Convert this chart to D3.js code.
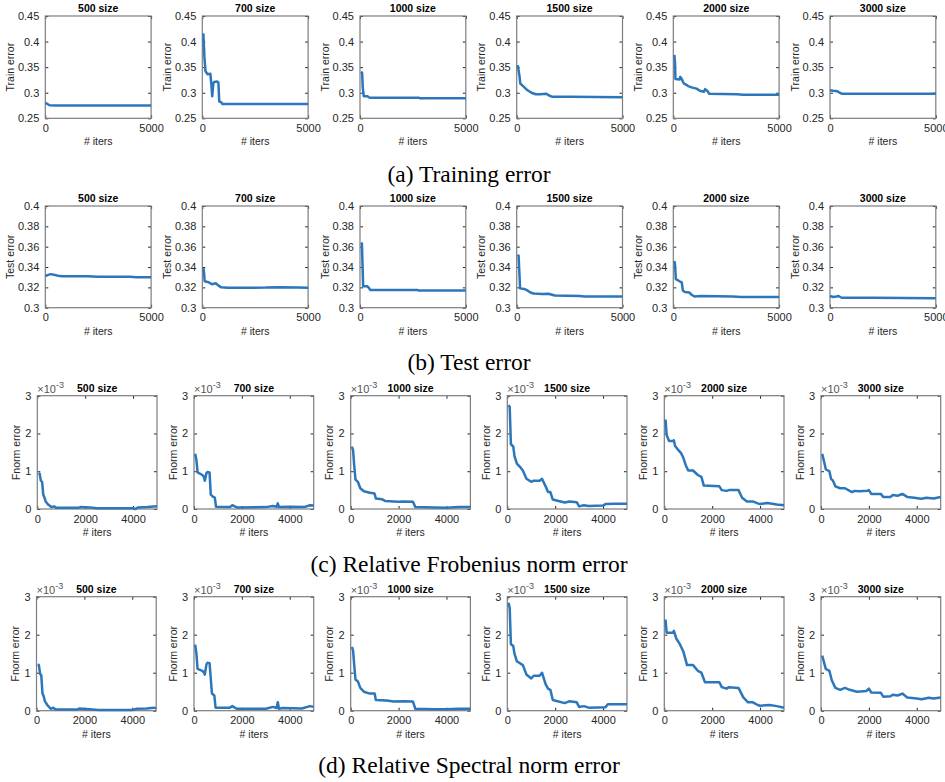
<!DOCTYPE html>
<html>
<head>
<meta charset="utf-8">
<script src="https://cdn.jsdelivr.net/npm/d3@7"></script>
<style>
  body { margin: 0; background: #fff; }
  text { font-family: "Liberation Sans", Arial, sans-serif; }
</style>
</head>
<body>
<div id="chart"></div>
<script>
var width = 945,
  height = 782;

var sizeTitles = ["500 size", "700 size", "1000 size", "1500 size", "2000 size", "3000 size"];

var captions = ["(a) Training error", "(b) Test error", "(c) Relative Frobenius norm error", "(d) Relative Spectral norm error"];
var yLabels = ["Train error", "Test error", "Fnorm error", "Fnorm error"];

var trainTicks = [0.25, 0.3, 0.35, 0.4, 0.45];
var testTicks = [0.3, 0.32, 0.34, 0.36, 0.38, 0.4];
var normTicks = [0, 1, 2, 3];   // x 10^-3
var iterTicksShort = [0, 5000];
var iterTicksLong = [0, 2000, 4000];

// [iteration, value]
var trainError = [
  [[0,0.280],[100,0.278],[200,0.2755],[500,0.2752],[5000,0.2752]],
  [[50,0.416],[100,0.37],[150,0.342],[250,0.336],[380,0.337],[420,0.32],[470,0.293],[520,0.318],[560,0.321],[700,0.322],[760,0.32],[800,0.283],[900,0.281],[950,0.278],[5000,0.278]],
  [[50,0.341],[100,0.339],[130,0.31],[180,0.293],[350,0.293],[420,0.291],[500,0.29],[2800,0.29],[2850,0.289],[5000,0.289]],
  [[50,0.354],[130,0.333],[170,0.318],[300,0.313],[450,0.307],[550,0.304],[700,0.300],[900,0.297],[1100,0.297],[1400,0.298],[1550,0.294],[1700,0.292],[2500,0.292],[5000,0.291]],
  [[50,0.374],[80,0.36],[100,0.327],[300,0.326],[330,0.331],[400,0.327],[450,0.322],[500,0.318],[600,0.316],[700,0.313],[900,0.310],[1100,0.308],[1250,0.304],[1450,0.302],[1500,0.307],[1600,0.304],[1700,0.298],[3000,0.297],[3300,0.296],[5000,0.296]],
  [[0,0.305],[150,0.304],[350,0.303],[450,0.300],[550,0.298],[5000,0.298]]
];

var testError = [
  [[0,0.331],[100,0.332],[250,0.333],[400,0.3325],[600,0.3315],[800,0.331],[2000,0.331],[2500,0.3305],[4000,0.3305],[4300,0.330],[5000,0.330]],
  [[50,0.339],[80,0.335],[110,0.326],[300,0.325],[450,0.323],[650,0.324],[750,0.322],[900,0.320],[1200,0.3195],[3000,0.3198],[3600,0.3202],[4500,0.3198],[5000,0.3195]],
  [[50,0.364],[90,0.363],[150,0.321],[350,0.321],[420,0.3195],[480,0.3175],[2700,0.3175],[2750,0.317],[5000,0.317]],
  [[50,0.352],[90,0.351],[160,0.319],[350,0.3185],[500,0.317],[650,0.315],[800,0.314],[1200,0.3135],[1500,0.3137],[1800,0.312],[3000,0.3115],[3200,0.311],[5000,0.311]],
  [[50,0.346],[80,0.343],[120,0.328],[300,0.326],[400,0.325],[450,0.317],[550,0.3155],[750,0.315],[850,0.313],[1000,0.311],[1300,0.3115],[2800,0.311],[3200,0.3105],[5000,0.3105]],
  [[0,0.3115],[150,0.3105],[300,0.311],[400,0.3115],[550,0.3098],[1000,0.3097],[2000,0.3098],[5000,0.3093]]
];

// values in units of 10^-3
var fnormError = [
  [[50,0.95],[100,0.93],[150,0.75],[200,0.72],[250,0.38],[300,0.3],[350,0.2],[450,0.12],[550,0.07],[600,0.05],[700,0.07],[800,0.03],[1700,0.03],[1800,0.05],[2200,0.04],[2500,0.02],[4000,0.02],[4100,0.0],[4200,0.04],[4600,0.05],[5000,0.07]],
  [[50,1.46],[100,1.3],[150,0.97],[350,0.9],[420,0.85],[450,0.75],[520,0.95],[560,0.98],[650,0.97],[700,0.38],[800,0.32],[870,0.3],[920,0.06],[1500,0.05],[1600,0.1],[1700,0.07],[1800,0.04],[3000,0.05],[3300,0.08],[3450,0.06],[3500,0.15],[3550,0.05],[4000,0.06],[4600,0.05],[4850,0.1],[5000,0.09]],
  [[50,1.65],[100,1.55],[140,1.2],[200,0.78],[300,0.72],[400,0.55],[550,0.47],[800,0.43],[950,0.42],[1000,0.4],[1050,0.28],[1300,0.26],[1450,0.21],[1800,0.2],[2000,0.19],[2200,0.2],[2600,0.19],[2700,0.05],[3500,0.04],[4000,0.03],[4500,0.05],[5000,0.05]],
  [[50,2.75],[100,2.7],[150,1.72],[250,1.65],[300,1.4],[400,1.2],[550,1.1],[650,1.02],[800,0.8],[1000,0.72],[1100,0.75],[1350,0.75],[1450,0.8],[1600,0.6],[1700,0.45],[1800,0.45],[1900,0.25],[2100,0.22],[2400,0.17],[2600,0.2],[2900,0.18],[3000,0.07],[3200,0.1],[3400,0.08],[4000,0.09],[4100,0.13],[4500,0.14],[5000,0.14]],
  [[50,2.37],[100,1.95],[200,1.8],[350,1.8],[400,1.82],[450,1.67],[600,1.55],[700,1.48],[800,1.35],[900,1.15],[1000,1.02],[1200,1.02],[1400,0.9],[1550,0.85],[1650,0.62],[2300,0.6],[2400,0.5],[2600,0.48],[2700,0.5],[3100,0.5],[3250,0.3],[3450,0.2],[3700,0.2],[3900,0.15],[4000,0.13],[4300,0.16],[4700,0.12],[5000,0.1]],
  [[50,1.46],[150,1.2],[200,1.05],[350,1.0],[420,0.8],[500,0.75],[600,0.6],[800,0.55],[1000,0.55],[1200,0.48],[1300,0.45],[1400,0.48],[1600,0.47],[1950,0.48],[2000,0.5],[2100,0.4],[2500,0.4],[2600,0.32],[2900,0.32],[3000,0.37],[3200,0.35],[3400,0.4],[3600,0.32],[3900,0.3],[4100,0.28],[4200,0.27],[4400,0.3],[4700,0.28],[5000,0.32]]
];

var specError = [
  [[50,1.22],[100,1.2],[150,0.97],[200,0.93],[250,0.45],[300,0.38],[350,0.25],[450,0.15],[550,0.08],[600,0.05],[700,0.08],[800,0.03],[1700,0.03],[1800,0.06],[2200,0.04],[2600,0.02],[4000,0.02],[4200,0.05],[4600,0.06],[4900,0.08],[5000,0.06]],
  [[50,1.74],[100,1.5],[150,1.1],[350,1.05],[420,1.0],[450,0.95],[520,1.22],[560,1.26],[650,1.25],[750,0.45],[850,0.4],[900,0.08],[1500,0.08],[1600,0.12],[1700,0.08],[1800,0.05],[3000,0.05],[3300,0.1],[3450,0.07],[3500,0.22],[3550,0.05],[3700,0.07],[4500,0.06],[4850,0.12],[5000,0.1]],
  [[50,1.68],[100,1.58],[140,1.25],[200,0.82],[300,0.77],[400,0.6],[550,0.5],[800,0.45],[1000,0.45],[1050,0.28],[1500,0.27],[1800,0.24],[2200,0.25],[2600,0.24],[2700,0.05],[3500,0.04],[4000,0.04],[4500,0.05],[5000,0.05]],
  [[50,2.84],[100,2.7],[150,1.75],[250,1.7],[300,1.5],[400,1.3],[650,1.2],[800,0.95],[1000,0.85],[1100,0.92],[1350,0.92],[1450,1.0],[1600,0.7],[1700,0.58],[1800,0.55],[1900,0.28],[2100,0.25],[2400,0.2],[2600,0.25],[2900,0.22],[3000,0.1],[3200,0.12],[3400,0.08],[4100,0.09],[4200,0.17],[5000,0.17]],
  [[50,2.4],[100,2.05],[350,2.05],[400,2.1],[500,1.9],[650,1.75],[800,1.55],[950,1.2],[1200,1.2],[1400,1.05],[1550,1.0],[1700,0.75],[2300,0.75],[2400,0.62],[2600,0.58],[2700,0.62],[3100,0.6],[3300,0.35],[3500,0.22],[3700,0.22],[3900,0.15],[4000,0.13],[4400,0.15],[4700,0.12],[5000,0.08]],
  [[50,1.45],[200,1.1],[350,1.05],[450,0.8],[600,0.6],[800,0.55],[1000,0.6],[1200,0.55],[1500,0.5],[1900,0.52],[2000,0.58],[2100,0.48],[2500,0.47],[2600,0.37],[2900,0.38],[3000,0.42],[3200,0.4],[3400,0.45],[3600,0.35],[4000,0.32],[4200,0.3],[4500,0.34],[4700,0.32],[5000,0.35]]
];

var allSeries = [trainError, testError, fnormError, specError];
var yTickSets = [trainTicks, testTicks, normTicks, normTicks];
var xTickSets = [iterTicksShort, iterTicksShort, iterTicksLong, iterTicksLong];

// layout of the 4 panel rows
var rowLayout = [
  { top: 16, bottom: 118.3, lefts: [45.3, 202.3, 360, 516.7, 673.3, 830], w: 105.8, ylabOff: 35, capY: 182 },
  { top: 206, bottom: 307.7, lefts: [45.3, 202.3, 360, 516.7, 673.3, 830], w: 105.8, ylabOff: 35, capY: 370 },
  { top: 395.7, bottom: 509, lefts: [37.3, 194, 350.7, 507.3, 664.3, 821], w: 119.7, ylabOff: 21, capY: 572, exp: true },
  { top: 596.7, bottom: 710.7, lefts: [36.5, 194, 350.7, 507.3, 664.3, 821], w: 119.7, ylabOff: 21, capY: 773, exp: true }
];

var lineColor = "#2c77bb";
var boxColor = "#7d7d7d";
var tickColor = "#262626";

var svg = d3.select("#chart").append("svg")
  .attr("width", width)
  .attr("height", height)
  .append("g");

var fmt = d3.format("~g");

rowLayout.forEach(function (row, r) {
  var yTicks = yTickSets[r];
  var xTicks = xTickSets[r];
  var h = row.bottom - row.top;

  for (var c = 0; c < 6; c++) {
    var left = row.lefts[c];
    var x = d3.scaleLinear().domain([0, 5000]).range([0, row.w]);
    var y = d3.scaleLinear().domain([yTicks[0], yTicks[yTicks.length - 1]]).range([h, 0]);

    var g = svg.append("g").attr("transform", "translate(" + left + "," + row.top + ")");

    // axes with inward ticks, matlab style
    var gl = g.append("g").call(d3.axisLeft(y).tickValues(yTicks).tickFormat(fmt).tickSizeInner(-3).tickSizeOuter(0).tickPadding(6));
    var gr = g.append("g").attr("transform", "translate(" + row.w + ",0)")
      .call(d3.axisRight(y).tickValues(yTicks).tickFormat("").tickSizeInner(-3).tickSizeOuter(0));
    var gb = g.append("g").attr("transform", "translate(0," + h + ")")
      .call(d3.axisBottom(x).tickValues(xTicks).tickFormat(fmt).tickSizeInner(-3).tickSizeOuter(0).tickPadding(6));
    var gt = g.append("g")
      .call(d3.axisTop(x).tickValues(xTicks).tickFormat("").tickSizeInner(-3).tickSizeOuter(0));

    [gl, gr, gb, gt].forEach(function (a) {
      a.select(".domain").remove();
      a.selectAll(".tick line").attr("stroke", tickColor);
      a.selectAll("text").attr("fill", tickColor).style("font-size", "11px")
        .style("font-family", "'Liberation Sans', Arial, sans-serif");
    });

    g.append("rect")
      .attr("x", 0).attr("y", 0)
      .attr("width", row.w).attr("height", h)
      .attr("fill", "none")
      .attr("stroke", boxColor)
      .attr("stroke-width", 1.2);

    var line = d3.line()
      .x(function (d) { return x(d[0]); })
      .y(function (d) { return y(d[1]); });

    g.append("path")
      .datum(allSeries[r][c])
      .attr("d", line)
      .attr("fill", "none")
      .attr("stroke", lineColor)
      .attr("stroke-width", 2.5)
      .attr("stroke-linejoin", "round");

    g.append("text")
      .attr("x", row.w / 2)
      .attr("y", -4)
      .attr("text-anchor", "middle")
      .style("font-size", "10.5px")
      .style("font-weight", "bold")
      .text(sizeTitles[c]);

    g.append("text")
      .attr("x", row.w / 2)
      .attr("y", h + 27)
      .attr("text-anchor", "middle")
      .attr("fill", tickColor)
      .style("font-size", "10.5px")
      .text("# iters");

    g.append("text")
      .attr("transform", "translate(" + (-row.ylabOff) + "," + (h / 2) + ") rotate(-90)")
      .attr("text-anchor", "middle")
      .attr("dy", "0.35em")
      .attr("fill", tickColor)
      .style("font-size", "10.5px")
      .text(yLabels[r]);

    if (row.exp) {
      var ex = g.append("text")
        .attr("x", 0)
        .attr("y", -3)
        .attr("fill", "#555")
        .style("font-size", "11px");
      ex.append("tspan").text("\u00d710");
      ex.append("tspan").attr("dy", -5).style("font-size", "9px").text("-3");
    }
  }

  svg.append("text")
    .attr("x", 469)
    .attr("y", row.capY)
    .attr("text-anchor", "middle")
    .style("font-family", "'Liberation Serif', 'Times New Roman', serif")
    .style("font-size", "23.5px")
    .text(captions[r]);
});
</script>
</body>
</html>
